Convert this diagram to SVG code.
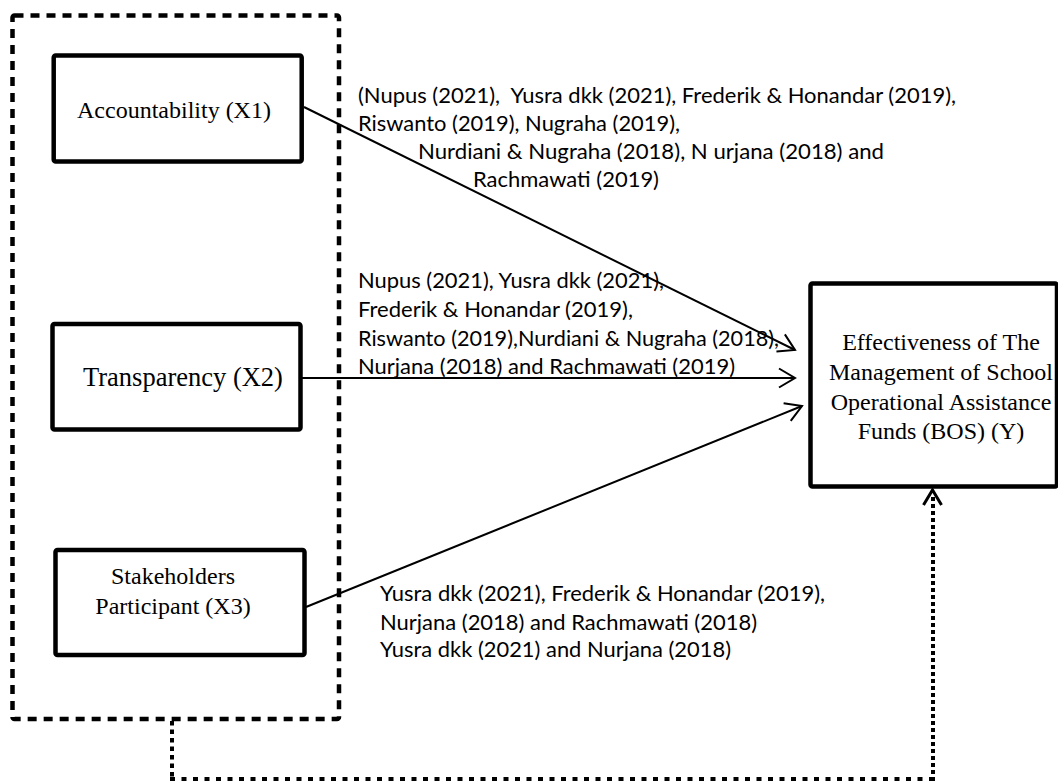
<svg xmlns="http://www.w3.org/2000/svg" width="1058" height="783" viewBox="0 0 1058 783">
<defs>
<style>
.box{fill:#fff;stroke:#000;stroke-width:4.5;stroke-linejoin:round}
.node{font-family:"Liberation Serif","Times New Roman",serif;fill:#000}
.lab{font-family:Lato,"Liberation Sans",sans-serif;font-size:22px;fill:#000}
.arr{stroke:#000;stroke-width:2;fill:none;marker-end:url(#ah)}
.dot{stroke:#000;stroke-width:4;fill:none}
</style>
<marker id="ah" markerUnits="userSpaceOnUse" markerWidth="24" markerHeight="24" viewBox="-20 -12 24 24" refX="0" refY="0" orient="auto" overflow="visible">
<path d="M-16,-9.5 L0,0 L-16,9.5" fill="none" stroke="#000" stroke-width="2"/>
</marker>
</defs>
<rect width="1058" height="783" fill="#fff"/>
<g id="group-x">
<rect x="12.5" y="15.5" width="326.5" height="703.5" rx="2" fill="none" stroke="#000" stroke-width="4.5" stroke-dasharray="9,7"/>
</g>
<g id="x1">
<rect class="box" x="53.7" y="55.5" width="248" height="106" rx="2"/>
<text class="node" x="77" y="118" font-size="24">Accountability (X1)</text>
</g>
<g id="x2">
<rect class="box" x="52.5" y="324" width="248" height="105.5" rx="2"/>
<text class="node" x="83" y="386" font-size="26.5">Transparency (X2)</text>
</g>
<g id="x3">
<rect class="box" x="55.5" y="550" width="249" height="105" rx="2"/>
<text class="node" x="173" y="584" font-size="24" text-anchor="middle">Stakeholders</text>
<text class="node" x="173" y="614" font-size="24" text-anchor="middle">Participant (X3)</text>
</g>
<g id="y">
<rect class="box" x="810.5" y="283.5" width="246.5" height="203" rx="2"/>
<text class="node" x="941" y="350" font-size="24" text-anchor="middle">Effectiveness of The</text>
<text class="node" x="941" y="380" font-size="24" text-anchor="middle">Management of School</text>
<text class="node" x="941" y="410" font-size="24" text-anchor="middle">Operational Assistance</text>
<text class="node" x="941" y="439" font-size="24" text-anchor="middle">Funds (BOS) (Y)</text>
</g>
<g id="connectors">
<line class="arr" x1="304" y1="107" x2="795" y2="350"/>
<line class="arr" x1="302" y1="378" x2="795" y2="378"/>
<line class="arr" x1="306" y1="607" x2="802" y2="406"/>
<line class="dot" x1="172" y1="721" x2="172" y2="779" stroke-dasharray="4.5,4"/>
<line class="dot" x1="170" y1="779" x2="933" y2="779" stroke-dasharray="5,6.5"/>
<line class="dot" x1="933" y1="781" x2="933" y2="494" stroke-dasharray="4,3"/>
<path d="M923.5,505 L932.5,490 L941.5,505" fill="none" stroke="#000" stroke-width="3"/>
</g>
<g id="labels">
<text class="lab" x="358" y="103" textLength="598" lengthAdjust="spacingAndGlyphs" xml:space="preserve">(Nupus (2021),  Yusra dkk (2021), Frederik &amp; Honandar (2019),</text>
<text class="lab" x="358" y="131" textLength="322" lengthAdjust="spacingAndGlyphs">Riswanto (2019), Nugraha (2019),</text>
<text class="lab" x="418" y="159" textLength="466" lengthAdjust="spacingAndGlyphs">Nurdiani &amp; Nugraha (2018), N urjana (2018) and</text>
<text class="lab" x="473" y="187" textLength="186" lengthAdjust="spacingAndGlyphs">Rachmawati (2019)</text>
<text class="lab" x="358" y="288" textLength="306" lengthAdjust="spacingAndGlyphs">Nupus (2021), Yusra dkk (2021),</text>
<text class="lab" x="358" y="317" textLength="275" lengthAdjust="spacingAndGlyphs">Frederik &amp; Honandar (2019),</text>
<text class="lab" x="358" y="346" textLength="421" lengthAdjust="spacingAndGlyphs">Riswanto (2019),Nurdiani &amp; Nugraha (2018),</text>
<text class="lab" x="358" y="374" textLength="377" lengthAdjust="spacingAndGlyphs">Nurjana (2018) and Rachmawati (2019)</text>
<text class="lab" x="380" y="601" textLength="445" lengthAdjust="spacingAndGlyphs">Yusra dkk (2021), Frederik &amp; Honandar (2019),</text>
<text class="lab" x="380" y="630" textLength="377" lengthAdjust="spacingAndGlyphs">Nurjana (2018) and Rachmawati (2018)</text>
<text class="lab" x="380" y="657" textLength="351" lengthAdjust="spacingAndGlyphs">Yusra dkk (2021) and Nurjana (2018)</text>
</g>
</svg>
